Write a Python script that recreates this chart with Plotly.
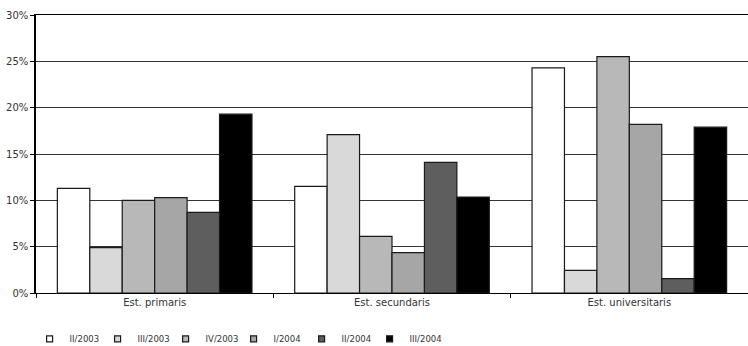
import plotly.graph_objects as go

categories = ["Est. primaris", "Est. secundaris", "Est. universitaris"]
series_names = ["II/2003", "III/2003", "IV/2003", "I/2004", "II/2004", "III/2004"]
v_II_2003 = [11.3, 11.5, 24.3]
v_III_2003 = [4.9, 17.1, 2.45]
v_IV_2003 = [10.0, 6.1, 25.5]
v_I_2004 = [10.3, 4.35, 18.2]
v_II_2004 = [8.7, 14.1, 1.55]
v_III_2004 = [19.3, 10.35, 17.9]
series_values = [v_II_2003, v_III_2003, v_IV_2003, v_I_2004, v_II_2004, v_III_2004]
colors = ["#ffffff", "#d9d9d9", "#b8b8b8", "#a6a6a6", "#5e5e5e", "#000000"]
y_ticks = [0, 5, 10, 15, 20, 25, 30]
y_tick_labels = ["0%", "5%", "10%", "15%", "20%", "25%", "30%"]

fig = go.Figure()
for name, vals, col in zip(series_names, series_values, colors):
    fig.add_trace(go.Bar(
        x=categories, y=vals, name=name, showlegend=False, legendgroup=name,
        marker=dict(color=col, line=dict(color="#1a1a1a", width=1.2)),
    ))
# legend-only entries with small square symbols
for name, col in zip(series_names, colors):
    fig.add_trace(go.Scatter(
        x=[None], y=[None], mode="markers", name=name, legendgroup=name,
        marker=dict(symbol="square", size=6, color=col,
                    line=dict(color="#1a1a1a", width=1.2)),
    ))
# invisible spacer entry so the last legend label is not clipped
fig.add_trace(go.Scatter(
    x=[None], y=[None], mode="markers", name="\u00a0", hoverinfo="skip",
    marker=dict(symbol="square", size=1, color="rgba(0,0,0,0)",
                line=dict(width=0)),
))

font_family = "DejaVu Sans, Verdana, sans-serif"
fig.update_layout(
    width=748, height=346,
    margin=dict(l=36, r=0, t=15, b=53, autoexpand=False),
    plot_bgcolor="white", paper_bgcolor="white",
    barmode="group", bargap=0.18, bargroupgap=0,
    font=dict(family=font_family, size=10, color="#333333"),
    showlegend=True,
    legend=dict(
        orientation="h", x=-0.009, y=-0.165, xanchor="left", yanchor="middle",
        font=dict(size=8.5, color="#333333"),
        itemwidth=30, traceorder="normal", bgcolor="rgba(0,0,0,0)",
        entrywidth=23, entrywidthmode="pixels", itemclick=False, itemdoubleclick=False,
    ),
)
fig.update_xaxes(
    showline=True, linecolor="black", linewidth=1, automargin=False, mirror=True,
    ticks="outside", tickson="boundaries", ticklen=4, tickcolor="black",
    showgrid=False, tickfont=dict(size=10, color="#333333"),
)
fig.update_yaxes(
    range=[0, 30], tickvals=y_ticks, ticktext=y_tick_labels, automargin=False,
    showline=True, linecolor="black", linewidth=1.5,
    ticks="outside", ticklen=4, tickcolor="black",
    showgrid=True, gridcolor="#333333", gridwidth=1,
    zeroline=False, tickfont=dict(size=10, color="#333333"),
)

fig.write_html(
    "out.html",
    config={"displayModeBar": False},
    post_script="document.body.style.margin='0';document.body.style.padding='0';document.body.style.overflow='hidden';",
)
